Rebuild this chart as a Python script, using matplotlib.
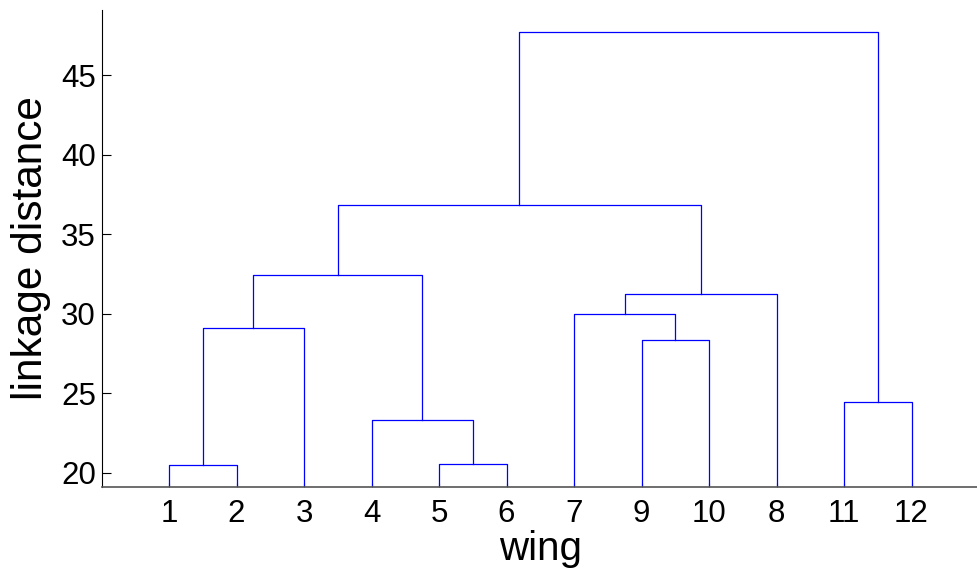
import matplotlib
matplotlib.use('Agg')
import matplotlib.pyplot as plt

# leaf order along the x axis (wing numbers)
leaf_order = [1, 2, 3, 4, 5, 6, 7, 9, 10, 8, 11, 12]

# merges: (left cluster, right cluster, linkage distance); new clusters numbered from 13
merge_left = [1, 5, 4, 11, 9, 13, 7, 19, 18, 21, 22]
merge_right = [2, 6, 14, 12, 10, 3, 17, 8, 15, 20, 16]
merge_height = [20.5, 20.57, 23.33, 24.46, 28.35, 29.11, 30.0, 31.24, 32.44, 36.83, 47.70]

plt.rcParams['font.family'] = ['Liberation Sans', 'DejaVu Sans']

fig = plt.figure(figsize=(9.77, 5.70), dpi=100)
ax = fig.add_axes([101.5 / 977, 83 / 570, 877.5 / 977, 477 / 570])

# x position and height of every cluster
xpos = {}
ypos = {}
for i, leaf in enumerate(leaf_order):
    xpos[leaf] = i + 1
    ypos[leaf] = 0.0

n = len(leaf_order)
for k, (a, b, h) in enumerate(zip(merge_left, merge_right, merge_height)):
    cid = n + 1 + k
    xa, xb = xpos[a], xpos[b]
    ax.plot([xa, xa, xb, xb], [ypos[a], h, h, ypos[b]], color='#0000ff', lw=0.9)
    xpos[cid] = (xa + xb) / 2
    ypos[cid] = h

ax.set_xlim(0, n + 1)
ax.set_ylim(19.12, 49.1)
ax.set_xticks(range(1, n + 1))
ax.set_xticklabels([str(v) for v in leaf_order])
ax.set_yticks([20, 25, 30, 35, 40, 45])

ax.spines['top'].set_visible(False)
ax.spines['right'].set_visible(False)
ax.spines['bottom'].set_color('#555555')
ax.spines['bottom'].set_linewidth(1.2)
ax.spines['left'].set_linewidth(0.8)

ax.tick_params(axis='y', direction='in', length=6.5, width=0.8, labelsize=22.5, pad=4)
ax.tick_params(axis='x', direction='in', length=3, width=0.8, labelsize=22.5, pad=9,
               color='#333333')

ax.set_xlabel('wing', fontsize=29, labelpad=0)
ax.set_ylabel('linkage distance', fontsize=30.5, labelpad=7)

fig.savefig('out.png', dpi=100)
